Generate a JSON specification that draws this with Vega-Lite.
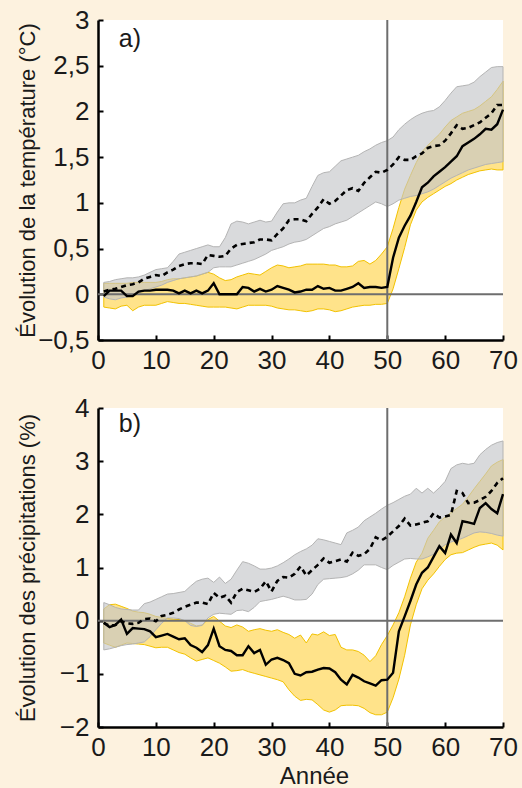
{
  "$schema": "https://vega.github.io/schema/vega-lite/v6.json",
  "background": "#FDF2DF",
  "padding": {"left": 16, "top": 7, "right": 4, "bottom": 0},
  "spacing": 22,
  "config": {
    "view": {"stroke": null, "fill": "white"},
    "font": "Liberation Sans",
    "axis": {
      "labelFont": "Liberation Sans",
      "titleFont": "Liberation Sans",
      "labelFontSize": 26,
      "titleFontSize": 22,
      "titleFontWeight": "normal",
      "labelColor": "#1a1a1a",
      "titleColor": "#1a1a1a",
      "domainColor": "black",
      "domainWidth": 2.5,
      "tickColor": "black",
      "tickWidth": 2,
      "tickSize": -5,
      "grid": false
    },
    "axisY": {"labelPadding": 14, "titlePadding": 3, "minExtent": 56, "maxExtent": 56},
    "axisX": {"labelPadding": 12, "labelFlush": false}
  },
  "datasets": {
    "a": [
      {"x": 1, "gl": -0.03, "gh": 0.13, "gm": 0.03, "yl": -0.14, "yh": 0.12, "ym": -0.02},
      {"x": 2, "gl": -0.05, "gh": 0.14, "gm": 0.05, "yl": -0.15, "yh": 0.12, "ym": 0.04},
      {"x": 3, "gl": -0.06, "gh": 0.16, "gm": 0.06, "yl": -0.16, "yh": 0.12, "ym": 0.04},
      {"x": 4, "gl": -0.04, "gh": 0.17, "gm": 0.08, "yl": -0.13, "yh": 0.12, "ym": 0.04},
      {"x": 5, "gl": -0.03, "gh": 0.18, "gm": 0.10, "yl": -0.12, "yh": 0.12, "ym": -0.02},
      {"x": 6, "gl": 0.0, "gh": 0.18, "gm": 0.11, "yl": -0.18, "yh": 0.13, "ym": -0.02},
      {"x": 7, "gl": 0.02, "gh": 0.19, "gm": 0.13, "yl": -0.14, "yh": 0.13, "ym": 0.03},
      {"x": 8, "gl": 0.04, "gh": 0.21, "gm": 0.17, "yl": -0.12, "yh": 0.13, "ym": 0.04},
      {"x": 9, "gl": 0.06, "gh": 0.24, "gm": 0.19, "yl": -0.12, "yh": 0.13, "ym": 0.04},
      {"x": 10, "gl": 0.08, "gh": 0.27, "gm": 0.21, "yl": -0.12, "yh": 0.13, "ym": 0.05},
      {"x": 11, "gl": 0.10, "gh": 0.28, "gm": 0.20, "yl": -0.10, "yh": 0.14, "ym": 0.05},
      {"x": 12, "gl": 0.13, "gh": 0.29, "gm": 0.24, "yl": -0.08, "yh": 0.16, "ym": 0.05},
      {"x": 13, "gl": 0.15, "gh": 0.36, "gm": 0.27, "yl": -0.09, "yh": 0.17, "ym": 0.04},
      {"x": 14, "gl": 0.17, "gh": 0.44, "gm": 0.31, "yl": -0.10, "yh": 0.17, "ym": 0.01},
      {"x": 15, "gl": 0.18, "gh": 0.46, "gm": 0.33, "yl": -0.10, "yh": 0.18, "ym": 0.04},
      {"x": 16, "gl": 0.19, "gh": 0.48, "gm": 0.34, "yl": -0.11, "yh": 0.19, "ym": 0.01},
      {"x": 17, "gl": 0.20, "gh": 0.50, "gm": 0.34, "yl": -0.12, "yh": 0.20, "ym": 0.04},
      {"x": 18, "gl": 0.22, "gh": 0.52, "gm": 0.33, "yl": -0.13, "yh": 0.22, "ym": 0.01},
      {"x": 19, "gl": 0.24, "gh": 0.54, "gm": 0.43, "yl": -0.14, "yh": 0.24, "ym": 0.04},
      {"x": 20, "gl": 0.29, "gh": 0.52, "gm": 0.42, "yl": -0.14, "yh": 0.22, "ym": 0.12},
      {"x": 21, "gl": 0.30, "gh": 0.52, "gm": 0.41, "yl": -0.14, "yh": 0.18, "ym": 0.0},
      {"x": 22, "gl": 0.30, "gh": 0.62, "gm": 0.42, "yl": -0.14, "yh": 0.15, "ym": 0.0},
      {"x": 23, "gl": 0.30, "gh": 0.77, "gm": 0.50, "yl": -0.15, "yh": 0.16, "ym": 0.0},
      {"x": 24, "gl": 0.32, "gh": 0.80, "gm": 0.54, "yl": -0.16, "yh": 0.19, "ym": 0.0},
      {"x": 25, "gl": 0.34, "gh": 0.79, "gm": 0.55, "yl": -0.14, "yh": 0.21, "ym": 0.08},
      {"x": 26, "gl": 0.36, "gh": 0.77, "gm": 0.56, "yl": -0.12, "yh": 0.23, "ym": 0.07},
      {"x": 27, "gl": 0.38, "gh": 0.79, "gm": 0.57, "yl": -0.12, "yh": 0.22, "ym": 0.03},
      {"x": 28, "gl": 0.41, "gh": 0.81, "gm": 0.60, "yl": -0.12, "yh": 0.21, "ym": 0.06},
      {"x": 29, "gl": 0.44, "gh": 0.79, "gm": 0.60, "yl": -0.12, "yh": 0.25, "ym": 0.03},
      {"x": 30, "gl": 0.48, "gh": 0.80, "gm": 0.59, "yl": -0.13, "yh": 0.29, "ym": 0.05},
      {"x": 31, "gl": 0.50, "gh": 0.90, "gm": 0.66, "yl": -0.15, "yh": 0.32, "ym": 0.09},
      {"x": 32, "gl": 0.52, "gh": 0.99, "gm": 0.72, "yl": -0.16, "yh": 0.31, "ym": 0.07},
      {"x": 33, "gl": 0.55, "gh": 1.00, "gm": 0.81, "yl": -0.17, "yh": 0.29, "ym": 0.05},
      {"x": 34, "gl": 0.57, "gh": 1.00, "gm": 0.82, "yl": -0.17, "yh": 0.30, "ym": 0.02},
      {"x": 35, "gl": 0.58, "gh": 1.03, "gm": 0.82, "yl": -0.18, "yh": 0.31, "ym": 0.03},
      {"x": 36, "gl": 0.60, "gh": 1.05, "gm": 0.80, "yl": -0.19, "yh": 0.33, "ym": 0.05},
      {"x": 37, "gl": 0.64, "gh": 1.18, "gm": 0.88, "yl": -0.18, "yh": 0.33, "ym": 0.05},
      {"x": 38, "gl": 0.68, "gh": 1.30, "gm": 0.95, "yl": -0.16, "yh": 0.33, "ym": 0.09},
      {"x": 39, "gl": 0.72, "gh": 1.33, "gm": 1.04, "yl": -0.16, "yh": 0.33, "ym": 0.06},
      {"x": 40, "gl": 0.74, "gh": 1.34, "gm": 0.99, "yl": -0.17, "yh": 0.32, "ym": 0.07},
      {"x": 41, "gl": 0.77, "gh": 1.40, "gm": 1.02, "yl": -0.19, "yh": 0.32, "ym": 0.04},
      {"x": 42, "gl": 0.79, "gh": 1.46, "gm": 1.08, "yl": -0.18, "yh": 0.30, "ym": 0.04},
      {"x": 43, "gl": 0.81, "gh": 1.48, "gm": 1.14, "yl": -0.16, "yh": 0.30, "ym": 0.06},
      {"x": 44, "gl": 0.85, "gh": 1.50, "gm": 1.16, "yl": -0.14, "yh": 0.31, "ym": 0.08},
      {"x": 45, "gl": 0.89, "gh": 1.52, "gm": 1.13, "yl": -0.13, "yh": 0.36, "ym": 0.12},
      {"x": 46, "gl": 0.93, "gh": 1.56, "gm": 1.22, "yl": -0.12, "yh": 0.37, "ym": 0.07},
      {"x": 47, "gl": 0.97, "gh": 1.59, "gm": 1.28, "yl": -0.12, "yh": 0.33, "ym": 0.08},
      {"x": 48, "gl": 1.01, "gh": 1.63, "gm": 1.34, "yl": -0.11, "yh": 0.37, "ym": 0.08},
      {"x": 49, "gl": 0.99, "gh": 1.66, "gm": 1.33, "yl": -0.11, "yh": 0.44, "ym": 0.07},
      {"x": 50, "gl": 0.96, "gh": 1.68, "gm": 1.36, "yl": -0.10, "yh": 0.52, "ym": 0.08},
      {"x": 51, "gl": 0.99, "gh": 1.72, "gm": 1.42, "yl": 0.06, "yh": 0.72, "ym": 0.40},
      {"x": 52, "gl": 1.03, "gh": 1.80, "gm": 1.50, "yl": 0.28, "yh": 0.95, "ym": 0.62},
      {"x": 53, "gl": 1.05, "gh": 1.86, "gm": 1.47, "yl": 0.51, "yh": 1.15, "ym": 0.75},
      {"x": 54, "gl": 1.07, "gh": 1.91, "gm": 1.47, "yl": 0.76, "yh": 1.30, "ym": 0.86},
      {"x": 55, "gl": 1.08, "gh": 1.95, "gm": 1.51, "yl": 0.92, "yh": 1.44, "ym": 1.01},
      {"x": 56, "gl": 1.10, "gh": 1.98, "gm": 1.54, "yl": 1.01, "yh": 1.56, "ym": 1.17},
      {"x": 57, "gl": 1.12, "gh": 2.00, "gm": 1.60, "yl": 1.06, "yh": 1.63, "ym": 1.22},
      {"x": 58, "gl": 1.15, "gh": 2.01, "gm": 1.62, "yl": 1.10, "yh": 1.69, "ym": 1.29},
      {"x": 59, "gl": 1.19, "gh": 2.05, "gm": 1.63, "yl": 1.14, "yh": 1.75, "ym": 1.34},
      {"x": 60, "gl": 1.23, "gh": 2.12, "gm": 1.68, "yl": 1.18, "yh": 1.83, "ym": 1.39},
      {"x": 61, "gl": 1.27, "gh": 2.20, "gm": 1.76, "yl": 1.21, "yh": 1.90, "ym": 1.45},
      {"x": 62, "gl": 1.30, "gh": 2.27, "gm": 1.85, "yl": 1.25, "yh": 1.94, "ym": 1.51},
      {"x": 63, "gl": 1.33, "gh": 2.28, "gm": 1.81, "yl": 1.28, "yh": 1.98, "ym": 1.62},
      {"x": 64, "gl": 1.36, "gh": 2.29, "gm": 1.82, "yl": 1.31, "yh": 2.00, "ym": 1.66},
      {"x": 65, "gl": 1.38, "gh": 2.32, "gm": 1.85, "yl": 1.33, "yh": 2.02, "ym": 1.70},
      {"x": 66, "gl": 1.40, "gh": 2.38, "gm": 1.88, "yl": 1.35, "yh": 2.06, "ym": 1.75},
      {"x": 67, "gl": 1.42, "gh": 2.43, "gm": 1.93, "yl": 1.36, "yh": 2.11, "ym": 1.81},
      {"x": 68, "gl": 1.43, "gh": 2.48, "gm": 1.98, "yl": 1.37, "yh": 2.16, "ym": 1.80},
      {"x": 69, "gl": 1.44, "gh": 2.49, "gm": 2.07, "yl": 1.36, "yh": 2.24, "ym": 1.86},
      {"x": 70, "gl": 1.45, "gh": 2.49, "gm": 2.07, "yl": 1.36, "yh": 2.33, "ym": 2.02}
    ],
    "b": [
      {"x": 1, "gl": -0.55, "gh": 0.34, "gm": -0.04, "yl": -0.42, "yh": 0.22, "ym": -0.04},
      {"x": 2, "gl": -0.53, "gh": 0.30, "gm": -0.10, "yl": -0.46, "yh": 0.30, "ym": -0.12},
      {"x": 3, "gl": -0.50, "gh": 0.25, "gm": -0.08, "yl": -0.50, "yh": 0.31, "ym": -0.08},
      {"x": 4, "gl": -0.47, "gh": 0.22, "gm": -0.01, "yl": -0.46, "yh": 0.27, "ym": 0.02},
      {"x": 5, "gl": -0.45, "gh": 0.21, "gm": -0.05, "yl": -0.42, "yh": 0.23, "ym": -0.25},
      {"x": 6, "gl": -0.44, "gh": 0.20, "gm": -0.06, "yl": -0.43, "yh": 0.18, "ym": -0.14},
      {"x": 7, "gl": -0.42, "gh": 0.20, "gm": -0.04, "yl": -0.44, "yh": 0.16, "ym": -0.15},
      {"x": 8, "gl": -0.40, "gh": 0.32, "gm": 0.03, "yl": -0.45, "yh": 0.15, "ym": -0.16},
      {"x": 9, "gl": -0.30, "gh": 0.35, "gm": 0.04, "yl": -0.48, "yh": 0.12, "ym": -0.20},
      {"x": 10, "gl": -0.17, "gh": 0.40, "gm": -0.01, "yl": -0.51, "yh": 0.08, "ym": -0.31},
      {"x": 11, "gl": -0.05, "gh": 0.45, "gm": 0.09, "yl": -0.50, "yh": 0.06, "ym": -0.28},
      {"x": 12, "gl": 0.05, "gh": 0.50, "gm": 0.11, "yl": -0.50, "yh": 0.04, "ym": -0.25},
      {"x": 13, "gl": 0.05, "gh": 0.51, "gm": 0.15, "yl": -0.55, "yh": 0.03, "ym": -0.30},
      {"x": 14, "gl": 0.04, "gh": 0.53, "gm": 0.21, "yl": -0.60, "yh": 0.02, "ym": -0.35},
      {"x": 15, "gl": 0.0, "gh": 0.55, "gm": 0.26, "yl": -0.63, "yh": 0.0, "ym": -0.33},
      {"x": 16, "gl": -0.09, "gh": 0.65, "gm": 0.30, "yl": -0.70, "yh": -0.05, "ym": -0.46},
      {"x": 17, "gl": -0.11, "gh": 0.74, "gm": 0.34, "yl": -0.76, "yh": -0.10, "ym": -0.51},
      {"x": 18, "gl": -0.09, "gh": 0.78, "gm": 0.34, "yl": -0.73, "yh": -0.08, "ym": -0.59},
      {"x": 19, "gl": 0.05, "gh": 0.80, "gm": 0.31, "yl": -0.70, "yh": 0.02, "ym": -0.46},
      {"x": 20, "gl": 0.12, "gh": 0.72, "gm": 0.52, "yl": -0.75, "yh": 0.08, "ym": -0.15},
      {"x": 21, "gl": 0.14, "gh": 0.82, "gm": 0.43, "yl": -0.80, "yh": -0.01, "ym": -0.48},
      {"x": 22, "gl": 0.13, "gh": 0.70, "gm": 0.47, "yl": -0.87, "yh": -0.10, "ym": -0.55},
      {"x": 23, "gl": 0.12, "gh": 0.78, "gm": 0.34, "yl": -0.95, "yh": -0.13, "ym": -0.57},
      {"x": 24, "gl": 0.19, "gh": 0.95, "gm": 0.54, "yl": -0.94, "yh": -0.08, "ym": -0.65},
      {"x": 25, "gl": 0.20, "gh": 1.11, "gm": 0.60, "yl": -0.92, "yh": -0.12, "ym": -0.65},
      {"x": 26, "gl": 0.17, "gh": 1.08, "gm": 0.57, "yl": -0.96, "yh": -0.20, "ym": -0.48},
      {"x": 27, "gl": 0.25, "gh": 1.03, "gm": 0.54, "yl": -0.99, "yh": -0.17, "ym": -0.61},
      {"x": 28, "gl": 0.36, "gh": 0.97, "gm": 0.60, "yl": -1.02, "yh": -0.15, "ym": -0.55},
      {"x": 29, "gl": 0.38, "gh": 0.97, "gm": 0.74, "yl": -1.05, "yh": -0.18, "ym": -0.83},
      {"x": 30, "gl": 0.40, "gh": 0.99, "gm": 0.55, "yl": -1.08, "yh": -0.20, "ym": -0.73},
      {"x": 31, "gl": 0.43, "gh": 1.03, "gm": 0.75, "yl": -1.11, "yh": -0.17, "ym": -0.70},
      {"x": 32, "gl": 0.46, "gh": 1.09, "gm": 0.82, "yl": -1.15, "yh": -0.22, "ym": -0.74},
      {"x": 33, "gl": 0.43, "gh": 1.16, "gm": 0.81, "yl": -1.30, "yh": -0.26, "ym": -0.80},
      {"x": 34, "gl": 0.39, "gh": 1.24, "gm": 0.88, "yl": -1.42, "yh": -0.33, "ym": -1.00},
      {"x": 35, "gl": 0.39, "gh": 1.30, "gm": 1.02, "yl": -1.50, "yh": -0.27, "ym": -1.03},
      {"x": 36, "gl": 0.40, "gh": 1.35, "gm": 0.85, "yl": -1.48, "yh": -0.42, "ym": -0.97},
      {"x": 37, "gl": 0.50, "gh": 1.42, "gm": 0.95, "yl": -1.49, "yh": -0.25, "ym": -0.96},
      {"x": 38, "gl": 0.68, "gh": 1.54, "gm": 1.05, "yl": -1.58, "yh": -0.27, "ym": -0.92},
      {"x": 39, "gl": 0.78, "gh": 1.52, "gm": 1.17, "yl": -1.68, "yh": -0.21, "ym": -0.89},
      {"x": 40, "gl": 0.79, "gh": 1.49, "gm": 1.09, "yl": -1.72, "yh": -0.28, "ym": -0.90},
      {"x": 41, "gl": 0.80, "gh": 1.46, "gm": 1.12, "yl": -1.68, "yh": -0.26, "ym": -0.97},
      {"x": 42, "gl": 0.81, "gh": 1.43, "gm": 1.15, "yl": -1.60, "yh": -0.50, "ym": -1.11},
      {"x": 43, "gl": 0.83, "gh": 1.65, "gm": 1.11, "yl": -1.59, "yh": -0.55, "ym": -1.20},
      {"x": 44, "gl": 0.88, "gh": 1.70, "gm": 1.28, "yl": -1.59, "yh": -0.55, "ym": -1.02},
      {"x": 45, "gl": 0.95, "gh": 1.76, "gm": 1.22, "yl": -1.60, "yh": -0.58, "ym": -1.07},
      {"x": 46, "gl": 1.05, "gh": 1.88, "gm": 1.25, "yl": -1.65, "yh": -0.65, "ym": -1.14},
      {"x": 47, "gl": 1.05, "gh": 1.95, "gm": 1.35, "yl": -1.73, "yh": -0.77, "ym": -1.18},
      {"x": 48, "gl": 1.05, "gh": 2.02, "gm": 1.57, "yl": -1.77, "yh": -0.66, "ym": -1.22},
      {"x": 49, "gl": 1.00, "gh": 2.10, "gm": 1.51, "yl": -1.77, "yh": -0.45, "ym": -1.12},
      {"x": 50, "gl": 0.96, "gh": 2.17, "gm": 1.58, "yl": -1.72, "yh": -0.28, "ym": -1.11},
      {"x": 51, "gl": 1.04, "gh": 2.22, "gm": 1.68, "yl": -1.45, "yh": -0.08, "ym": -0.98},
      {"x": 52, "gl": 1.10, "gh": 2.28, "gm": 1.78, "yl": -1.10, "yh": 0.15, "ym": -0.20},
      {"x": 53, "gl": 1.16, "gh": 2.34, "gm": 1.92, "yl": -0.65, "yh": 0.45, "ym": 0.08},
      {"x": 54, "gl": 1.17, "gh": 2.38, "gm": 1.79, "yl": -0.08, "yh": 0.80, "ym": 0.37},
      {"x": 55, "gl": 1.16, "gh": 2.49, "gm": 1.81, "yl": 0.30, "yh": 1.10, "ym": 0.68},
      {"x": 56, "gl": 1.16, "gh": 2.40, "gm": 1.84, "yl": 0.60, "yh": 1.27, "ym": 0.90},
      {"x": 57, "gl": 1.20, "gh": 2.49, "gm": 1.87, "yl": 0.76, "yh": 1.55, "ym": 1.00},
      {"x": 58, "gl": 1.25, "gh": 2.40, "gm": 2.02, "yl": 0.88, "yh": 1.70, "ym": 1.20},
      {"x": 59, "gl": 1.35, "gh": 2.50, "gm": 1.94, "yl": 1.02, "yh": 1.86, "ym": 1.40},
      {"x": 60, "gl": 1.43, "gh": 2.62, "gm": 1.96, "yl": 1.15, "yh": 1.95, "ym": 1.27},
      {"x": 61, "gl": 1.48, "gh": 2.86, "gm": 1.99, "yl": 1.24, "yh": 2.03, "ym": 1.62},
      {"x": 62, "gl": 1.51, "gh": 2.93, "gm": 2.44, "yl": 1.27, "yh": 2.11, "ym": 1.46},
      {"x": 63, "gl": 1.55, "gh": 2.96, "gm": 2.40, "yl": 1.28, "yh": 2.19, "ym": 1.87},
      {"x": 64, "gl": 1.60, "gh": 2.94, "gm": 2.21, "yl": 1.33, "yh": 2.33, "ym": 1.85},
      {"x": 65, "gl": 1.65, "gh": 2.96, "gm": 2.22, "yl": 1.38, "yh": 2.48, "ym": 1.82},
      {"x": 66, "gl": 1.67, "gh": 3.12, "gm": 2.27, "yl": 1.42, "yh": 2.62, "ym": 2.12},
      {"x": 67, "gl": 1.66, "gh": 3.22, "gm": 2.33, "yl": 1.44, "yh": 2.76, "ym": 2.21},
      {"x": 68, "gl": 1.64, "gh": 3.30, "gm": 2.44, "yl": 1.46, "yh": 2.91, "ym": 2.10},
      {"x": 69, "gl": 1.61, "gh": 3.35, "gm": 2.59, "yl": 1.42, "yh": 2.98, "ym": 2.02},
      {"x": 70, "gl": 1.59, "gh": 3.38, "gm": 2.68, "yl": 1.33, "yh": 3.03, "ym": 2.38}
    ]
  },
  "vconcat": [
    {
      "width": 405,
      "height": 320,
      "layer": [
        {
          "data": {"name": "a"},
          "mark": {"type": "area", "fill": "#FFE38A", "stroke": "#F2C200", "strokeWidth": 1},
          "encoding": {
            "x": {
              "field": "x",
              "type": "quantitative",
              "scale": {"domain": [0, 70], "nice": false},
              "axis": {"values": [0, 10, 20, 30, 40, 50, 60, 70], "title": null}
            },
            "y": {
              "field": "yl",
              "type": "quantitative",
              "scale": {"domain": [-0.5, 3], "nice": false},
              "axis": {
                "values": [-0.5, 0, 0.5, 1, 1.5, 2, 2.5, 3],
                "labelExpr": "replace(format(datum.value, '~g'), '.', ',')",
                "title": "Évolution de la température (°C)"
              }
            },
            "y2": {"field": "yh"}
          }
        },
        {
          "data": {"name": "a"},
          "mark": {"type": "area", "fill": "#C5C6C9", "fillOpacity": 0.65, "stroke": "#B4B4B4", "strokeWidth": 1},
          "encoding": {
            "x": {"field": "x", "type": "quantitative"},
            "y": {"field": "gl", "type": "quantitative"},
            "y2": {"field": "gh"}
          }
        },
        {
          "data": {"values": [{"v": 0}]},
          "mark": {"type": "rule", "color": "#6E6E6E", "strokeWidth": 2},
          "encoding": {"y": {"field": "v", "type": "quantitative"}}
        },
        {
          "data": {"values": [{"v": 50}]},
          "mark": {"type": "rule", "color": "#6E6E6E", "strokeWidth": 2},
          "encoding": {"x": {"field": "v", "type": "quantitative"}}
        },
        {
          "data": {"name": "a"},
          "mark": {"type": "line", "color": "black", "strokeWidth": 2.6, "strokeDash": [5, 4]},
          "encoding": {
            "x": {"field": "x", "type": "quantitative"},
            "y": {"field": "gm", "type": "quantitative"}
          }
        },
        {
          "data": {"name": "a"},
          "mark": {"type": "line", "color": "black", "strokeWidth": 2.4},
          "encoding": {
            "x": {"field": "x", "type": "quantitative"},
            "y": {"field": "ym", "type": "quantitative"}
          }
        },
        {
          "data": {"values": [{"t": "a)", "px": 3.6, "py": 2.79}]},
          "mark": {"type": "text", "align": "left", "baseline": "middle", "fontSize": 25, "font": "Liberation Sans", "color": "#1a1a1a"},
          "encoding": {
            "x": {"field": "px", "type": "quantitative"},
            "y": {"field": "py", "type": "quantitative"},
            "text": {"field": "t"}
          }
        }
      ]
    },
    {
      "width": 405,
      "height": 319,
      "layer": [
        {
          "data": {"name": "b"},
          "mark": {"type": "area", "fill": "#FFE38A", "stroke": "#F2C200", "strokeWidth": 1},
          "encoding": {
            "x": {
              "field": "x",
              "type": "quantitative",
              "scale": {"domain": [0, 70], "nice": false},
              "axis": {"values": [0, 10, 20, 30, 40, 50, 60, 70], "title": "Année", "titleFontSize": 24, "titlePadding": 4, "titleX": 216}
            },
            "y": {
              "field": "yl",
              "type": "quantitative",
              "scale": {"domain": [-2, 4], "nice": false},
              "axis": {
                "values": [-2, -1, 0, 1, 2, 3, 4],
                "labelExpr": "replace(format(datum.value, '~g'), '.', ',')",
                "title": "Évolution des précipitations (%)"
              }
            },
            "y2": {"field": "yh"}
          }
        },
        {
          "data": {"name": "b"},
          "mark": {"type": "area", "fill": "#C5C6C9", "fillOpacity": 0.65, "stroke": "#B4B4B4", "strokeWidth": 1},
          "encoding": {
            "x": {"field": "x", "type": "quantitative"},
            "y": {"field": "gl", "type": "quantitative"},
            "y2": {"field": "gh"}
          }
        },
        {
          "data": {"values": [{"v": 0}]},
          "mark": {"type": "rule", "color": "#6E6E6E", "strokeWidth": 2},
          "encoding": {"y": {"field": "v", "type": "quantitative"}}
        },
        {
          "data": {"values": [{"v": 50}]},
          "mark": {"type": "rule", "color": "#6E6E6E", "strokeWidth": 2},
          "encoding": {"x": {"field": "v", "type": "quantitative"}}
        },
        {
          "data": {"name": "b"},
          "mark": {"type": "line", "color": "black", "strokeWidth": 2.6, "strokeDash": [5, 4]},
          "encoding": {
            "x": {"field": "x", "type": "quantitative"},
            "y": {"field": "gm", "type": "quantitative"}
          }
        },
        {
          "data": {"name": "b"},
          "mark": {"type": "line", "color": "black", "strokeWidth": 2.4},
          "encoding": {
            "x": {"field": "x", "type": "quantitative"},
            "y": {"field": "ym", "type": "quantitative"}
          }
        },
        {
          "data": {"values": [{"t": "b)", "px": 3.6, "py": 3.69}]},
          "mark": {"type": "text", "align": "left", "baseline": "middle", "fontSize": 25, "font": "Liberation Sans", "color": "#1a1a1a"},
          "encoding": {
            "x": {"field": "px", "type": "quantitative"},
            "y": {"field": "py", "type": "quantitative"},
            "text": {"field": "t"}
          }
        }
      ]
    }
  ]
}
